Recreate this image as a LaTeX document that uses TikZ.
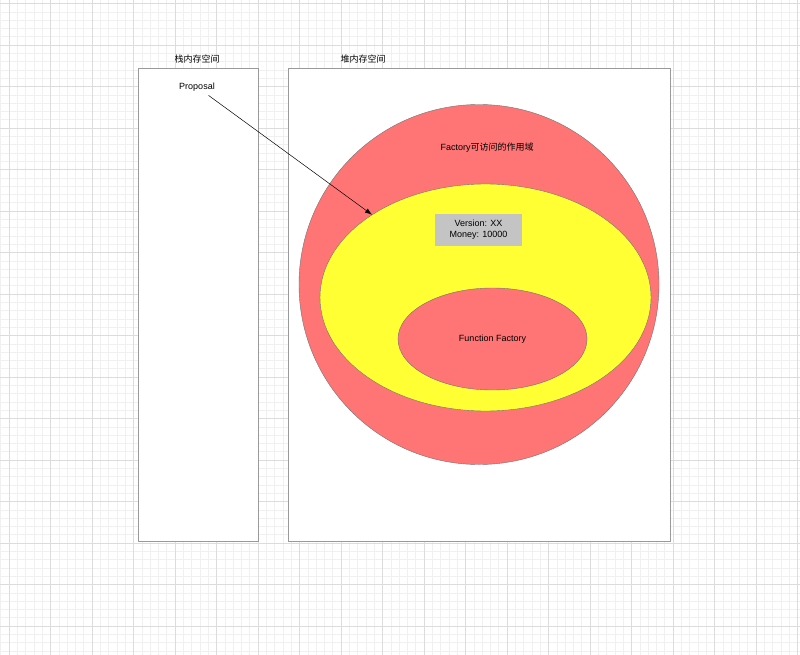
\documentclass[tikz,border=0pt]{standalone}
\usepackage{fontspec}
\setmainfont{Liberation Sans}
\newfontfamily\cjk{Noto Sans CJK SC}
\usepackage{tikz}
\usetikzlibrary{arrows.meta, shapes.geometric}
\definecolor{scopered}{HTML}{FF7575}
\definecolor{scopeyellow}{HTML}{FFFF33}
\definecolor{datagray}{HTML}{C4C4C4}
\definecolor{edgegray}{HTML}{9A9A9A}
\definecolor{gridminor}{HTML}{F0F0F0}
\definecolor{gridmajor}{HTML}{DCDCDC}

\begin{document}
\begin{tikzpicture}[x=1pt, y=-1pt,
  minorline/.style={draw=gridminor, line width=0.5pt},
  majorline/.style={draw=gridmajor, line width=0.6pt},
  memory/.style={draw=edgegray, fill=white, line width=0.6pt, inner sep=0pt},
  region/.style={draw=black!55, line width=0.4pt, inner sep=0pt},
  txt/.style={font=\fontsize{9}{11}\selectfont, inner sep=1pt},
  arr/.style={-{Latex[length=7pt, width=5pt]}, line width=0.5pt}
]
  \useasboundingbox (0,0) rectangle (800,655);
  \fill[white] (0,0) rectangle (800,655);
  % grid
  \foreach \i in {0,...,96} {
    \draw[minorline] ({0.7+8.3*\i},0) -- ++(0,655);
    \draw[minorline] (0,{3.5+8.3*\i}) -- ++(800,0);
  }
  \foreach \i in {0,...,19} {
    \draw[majorline] ({9+41.5*\i},0) -- ++(0,655);
    \draw[majorline] (0,{3.5+41.5*\i}) -- ++(800,0);
  }
  % memory areas
  \node[memory, minimum width=120pt, minimum height=473pt] (stack) at (198,304.5) {};
  \node[memory, minimum width=382pt, minimum height=473pt] (heap)  at (479,304.5) {};
  \node[txt] (stacklabel) at (197,59) {\cjk 栈内存空间};
  \node[txt] (heaplabel)  at (363,59) {\cjk 堆内存空间};
  % scopes
  \node[region, circle, fill=scopered, minimum size=360pt] (scope) at (479,284.5) {};
  \node[region, ellipse, fill=scopeyellow, minimum width=331pt, minimum height=227pt] (closure) at (485.5,297.5) {};
  \node[region, ellipse, fill=scopered, minimum width=189pt, minimum height=102pt, txt] (factory) at (492.5,339) {Function Factory};
  \node[txt] (scopelabel) at (487,148) {Factory{\cjk 可访问的作用域}};
  \node[txt, fill=datagray, minimum width=87pt, minimum height=32pt, align=center] (data) at (478.5,230) {Version: XX\\Money: 10000};
  % reference
  \node[txt, inner sep=4pt] (proposal) at (197,87) {Proposal};
  \draw[arr] (proposal) -- (closure);
\end{tikzpicture}
\end{document}
